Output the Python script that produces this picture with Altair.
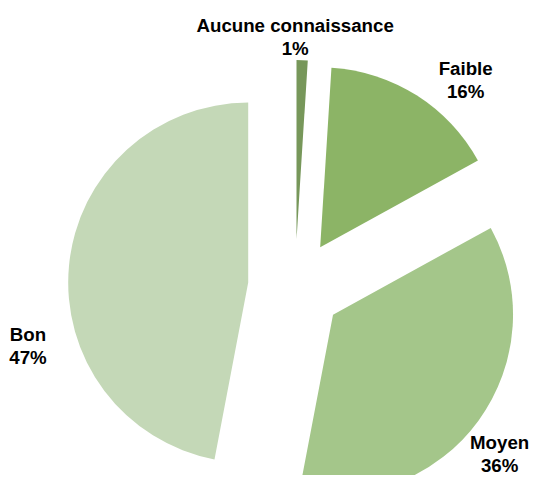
import math
import altair as alt
import pandas as pd

# ---- data ----
categories = ["Aucune connaissance", "Faible", "Moyen", "Bon"]
values = [1, 16, 36, 47]
colors = ["#77975a", "#8cb466", "#a4c68a", "#c4d8b7"]

# ---- layout ----
CX, CY = 287, 279        # pie centre (chart px)
RADIUS = 180
EXPLODE = 47
LINE_H = 23
LABEL_NUDGE = {          # manual label placement tweaks (px)
    "Aucune connaissance": (-7, -23),
    "Faible": (49, -15),
    "Moyen": (21, 34),
    "Bon": (-41, 81),
}

total = sum(values)
rows = []
cum = 0.0
for cat, v in zip(categories, values):
    a0 = cum / total * 2 * math.pi
    cum += v
    a1 = cum / total * 2 * math.pi
    mid = (a0 + a1) / 2
    dx, dy = math.sin(mid), -math.cos(mid)
    px, py = CX + EXPLODE * dx, CY + EXPLODE * dy
    ox, oy = CX + (EXPLODE + RADIUS) * dx, CY + (EXPLODE + RADIUS) * dy
    nx, ny = LABEL_NUDGE[cat]
    rows.append(dict(cat=cat, value=v, t0=a0, t1=a1, px=px, py=py,
                     lx=ox + nx, ly=oy + ny - LINE_H / 2,
                     label=f"{cat}\n{round(v / total * 100)}%"))
df = pd.DataFrame(rows)

color_scale = alt.Scale(domain=categories, range=colors)

arcs = alt.Chart(df).mark_arc(radius=RADIUS, stroke=None).encode(
    x=alt.X("px:Q", scale=None),
    y=alt.Y("py:Q", scale=None),
    theta=alt.Theta("t0:Q", scale=None),
    theta2="t1:Q",
    color=alt.Color("cat:N", scale=color_scale, legend=None),
)

labels = alt.Chart(df).mark_text(
    font="Liberation Sans", fontWeight="bold", fontSize=18.7,
    lineBreak="\n", lineHeight=LINE_H, align="center", baseline="middle",
    color="#000000",
).encode(
    x=alt.X("lx:Q", scale=None),
    y=alt.Y("ly:Q", scale=None),
    text="label:N",
)

chart = alt.layer(arcs, labels).properties(
    width=523, height=467, padding=0,
    autosize=alt.AutoSizeParams(type="none"),
).configure_view(stroke=None)

chart.save("out.html", embed_options={"renderer": "svg", "actions": False})
